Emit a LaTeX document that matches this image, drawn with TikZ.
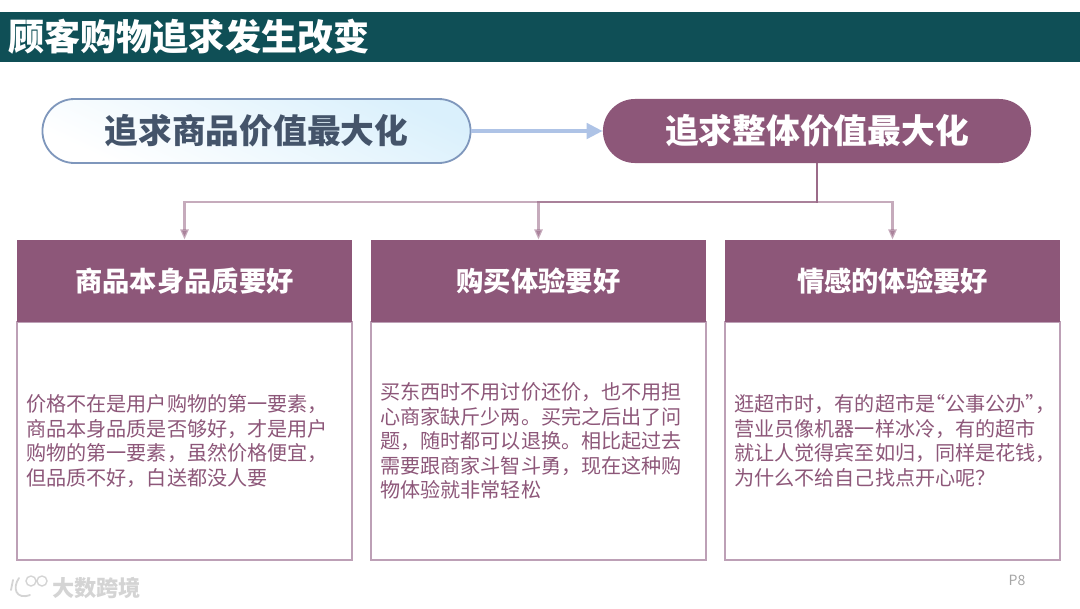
\documentclass[tikz,border=0pt]{standalone}
\usepackage{fontspec}
\setmainfont{Noto Sans CJK SC}
\newfontfamily\heavy{Noto Sans CJK SC Black}
\usepackage{xcolor}
\usepackage{tikz}
\usetikzlibrary{arrows.meta,positioning}
\definecolor{bandCol}{HTML}{0F4F56}
\definecolor{plumCol}{HTML}{8D5779}
\definecolor{plumEdge}{HTML}{BDA0B6}
\definecolor{slateCol}{HTML}{44546A}
\definecolor{paleEdge}{HTML}{7F97BC}
\definecolor{paleCol}{HTML}{DAF0FC}
\definecolor{flowCol}{HTML}{AEC3E6}
\definecolor{markCol}{HTML}{D4D4D4}
\tikzset{
  pill/.style={rounded corners=0.8cm, align=center, font=\fontsize{24}{28}\selectfont\heavy,
        minimum width=10.7cm, minimum height=1.6cm, inner sep=0pt},
  heading/.style={draw=none, fill=plumCol, text=white, align=center,
        font=\fontsize{19.4}{23}\selectfont\heavy, minimum width=8.375cm, minimum height=2.05cm, inner sep=0pt},
  detail/.style={draw=plumEdge, fill=white, line width=1.4pt, minimum width=8.375cm, minimum height=5.95cm, inner sep=0pt},
  copytext/.style={text=plumCol, align=left, anchor=west, inner sep=0pt,
        font=\fontsize{14.3}{17.4}\selectfont},
  flow/.style={-{Triangle[length=0.4cm, width=0.38cm]}, flowCol, line width=0.1cm},
  branch/.style={-{Triangle[length=0.26cm, width=0.2cm]}, plumCol, opacity=0.5, line width=0.07cm},
}
\begin{document}
\begin{tikzpicture}[x=0.025cm, y=-0.025cm]
  \useasboundingbox (0,0) rectangle (1080,608);
  % --- title band ---
  \fill[bandCol] (0,12) rectangle (1080,62);
  \node[text=white, anchor=west, inner sep=0pt, font=\fontsize{25.7}{30}\selectfont\heavy] (title) at (8,37) {顾客购物追求发生改变};
  % --- the two pursuits ---
  \node[pill, draw=paleEdge, line width=1.3pt, top color=paleCol, bottom color=white, shading angle=-25, text=slateCol] (prod) at (256.5,131) {追求商品价值最大化};
  \node[pill, fill=plumCol, text=white] (whole) at (817,131) {追求整体价值最大化};
  \draw[flow] (prod)--(whole);
  % --- three columns ---
  \node[detail] (tq) at (184.5,441) {};
  \node[detail] (tb) at (538.5,441) {};
  \node[detail] (te) at (892.5,441) {};
  \node[heading] (hq) at (184.5,281) {\raisebox{1pt}{商品本身品质要好}};
  \node[heading] (hb) at (538.5,281) {\raisebox{1pt}{购买体验要好}};
  \node[heading] (he) at (892.5,281) {\raisebox{1pt}{情感的体验要好}};
  % branch edges
  \coordinate (bus) at (817,202);
  \foreach \t in {hq,hb,he} \draw[branch] (whole.south)--(bus) -| (\t.north);
  % --- column texts ---
  \node[copytext] (cq) at (26,441) {价格不在是用户购物的第一要素，\\商品本身品质是否够好，才是用户\\购物的第一要素，虽然价格便宜，\\但品质不好，白送都没人要};
  \node[copytext] (cb) at (380,441) {买东西时不用讨价还价，也不用担\\心商家缺斤少两。买完之后出了问\\题，随时都可以退换。相比起过去\\需要跟商家斗智斗勇，现在这种购\\物体验就非常轻松};
  \node[copytext] (ce) at (734,441) {逛超市时，有的超市是\makebox[0.5em][r]{“}公事公办\makebox[0.5em][l]{”}，\\营业员像机器一样冰冷，有的超市\\就让人觉得宾至如归，同样是花钱，\\为什么不给自己找点开心呢？};
  % --- watermark + page number ---
  \draw[markCol, line width=1.3pt, line cap=round] (13,580)--(11,590) (19,578) .. controls (12,588) and (16,600) .. (30,595);
  \draw[markCol, line width=1pt] (31,581) circle (5) (42,581) circle (5);
  \node[text=markCol, anchor=west, inner sep=0pt, font=\fontsize{15.8}{18}\selectfont\heavy] (mark) at (52,588) {大数跨境};
  \node[text=black!35, inner sep=0pt, font=\fontsize{10}{12}\selectfont] (page) at (1017,580) {P8};
\end{tikzpicture}
\end{document}
